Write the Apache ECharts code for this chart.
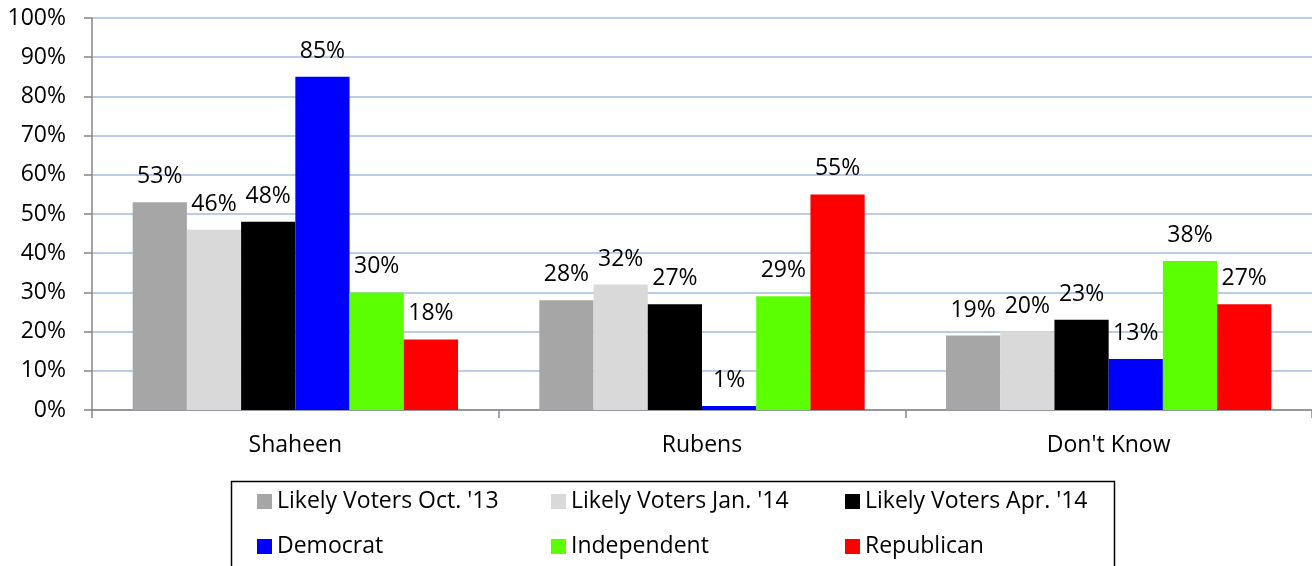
<!DOCTYPE html>
<html>
<head>
<meta charset="utf-8">
<style>
html, body { margin: 0; padding: 0; background: #fff; }
#main { width: 1312px; height: 566px; }
</style>
<script src="https://cdn.jsdelivr.net/npm/echarts@6/dist/echarts.min.js"></script>
</head>
<body>
<div id="main"></div>
<script>
var categories = ['Shaheen', 'Rubens', "Don't Know"];
var seriesNames = ["Likely Voters Oct. '13", "Likely Voters Jan. '14", "Likely Voters Apr. '14", 'Democrat', 'Independent', 'Republican'];
var octVoters = [53, 28, 19];
var janVoters = [46, 32, 20];
var aprVoters = [48, 27, 23];
var democrat = [85, 1, 13];
var independent = [30, 29, 38];
var republican = [18, 55, 27];
var yTicks = [0, 10, 20, 30, 40, 50, 60, 70, 80, 90, 100];

var colors = ['#a6a6a6', '#d9d9d9', '#000000', '#0000ff', '#5cff00', '#ff0000'];
var values = [octVoters, janVoters, aprVoters, democrat, independent, republican];
var font = 'Open Sans';
var fs = 23;

var series = [];
for (var i = 0; i < seriesNames.length; i++) {
  series.push({
    name: seriesNames[i],
    type: 'bar',
    data: values[i],
    barGap: '0%',
    barCategoryGap: '20%',
    itemStyle: { color: colors[i] },
    label: {
      show: true,
      position: 'top',
      distance: 14,
      formatter: '{c}%',
      color: '#000',
      fontFamily: font,
      fontSize: fs
    }
  });
}

// legend laid out as 3 columns of 2 rows, like the original
var legendLefts = [257, 551, 845];
var legends = [];
for (var c = 0; c < 3; c++) {
  legends.push({
    orient: 'vertical',
    left: legendLefts[c],
    top: 490,
    padding: 0,
    itemWidth: 15,
    itemHeight: 15,
    itemGap: 22,
    icon: 'rect',
    textStyle: { color: '#000', fontFamily: font, fontSize: fs, lineHeight: 23 },
    data: [seriesNames[c], seriesNames[c + 3]]
  });
}

var myChart = echarts.init(document.getElementById('main'));
myChart.setOption({
  animation: false,
  grid: { left: 92, right: 0, top: 18, bottom: 156 },
  xAxis: {
    type: 'category',
    data: categories,
    axisLine: { lineStyle: { color: '#868686', width: 1.5 } },
    axisTick: { show: true, length: 8, lineStyle: { color: '#868686', width: 1.5 } },
    axisLabel: { color: '#000', fontFamily: font, fontSize: fs, margin: 24 }
  },
  yAxis: {
    type: 'value',
    min: yTicks[0],
    max: yTicks[yTicks.length - 1],
    interval: 10,
    axisLine: { show: true, lineStyle: { color: '#868686', width: 1.5 } },
    axisTick: { show: true, length: 8, lineStyle: { color: '#868686', width: 1.5 } },
    axisLabel: { color: '#000', fontFamily: font, fontSize: fs, margin: 26, formatter: '{value}%' },
    splitLine: { lineStyle: { color: '#a4bbe2', width: 1.5 } }
  },
  legend: legends,
  graphic: [{
    type: 'rect',
    left: 229,
    top: 479,
    shape: { width: 883, height: 100 },
    style: { fill: 'none', stroke: '#000', lineWidth: 1.5 },
    silent: true
  }],
  series: series
});
</script>
</body>
</html>
